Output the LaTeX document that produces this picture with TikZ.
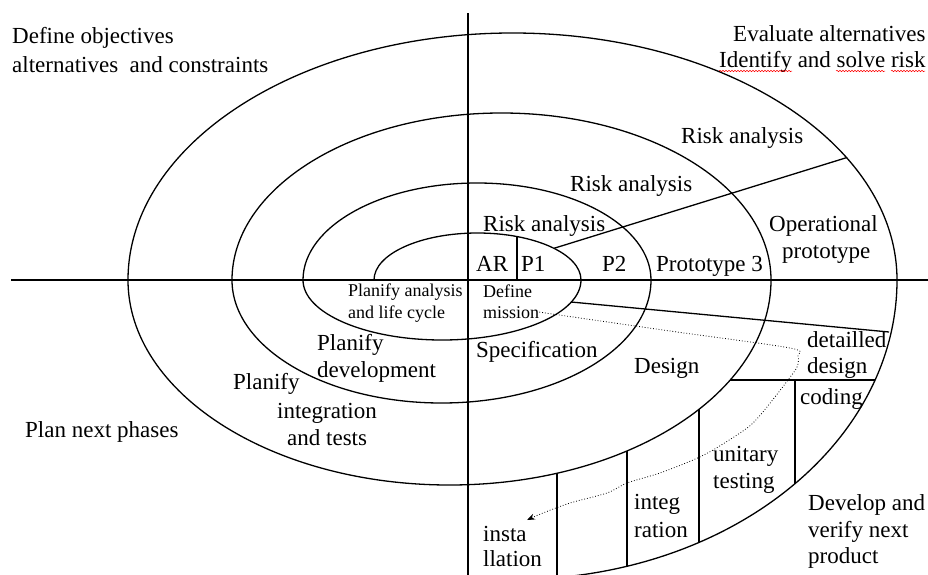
\documentclass[tikz,border=0pt]{standalone}
\usepackage{fontspec}
\setmainfont{Liberation Serif}
\usetikzlibrary{arrows.meta,decorations.pathmorphing}
\begin{document}
\begin{tikzpicture}[x=1pt,y=1pt,
  lbl/.style={inner sep=0pt, anchor=base west, font=\fontsize{23}{27}\selectfont},
  sml/.style={inner sep=0pt, anchor=base west, font=\fontsize{18}{21}\selectfont},
  ln/.style={line width=1.3pt},
  ax/.style={line width=1.4pt},
  spell/.style={red, line width=0.5pt, decorate, decoration={snake, amplitude=0.7pt, segment length=3pt}},
  flow/.style={dotted, line width=0.8pt, -{Stealth[length=8pt,width=6pt]}}]
\useasboundingbox (0,-294) rectangle (928,280);
\clip (0,-294) rectangle (928,280);
% axes
\coordinate (axL) at (11,0); \coordinate (axR) at (930,0);
\coordinate (axT) at (468,267); \coordinate (axB) at (468,-296);
\draw[ax] (axL) -- (axR);
\draw[ax] (axT) -- (axB);
% upper half arcs
\draw[ln] (374,0) arc[start angle=180,end angle=0,x radius=103.5,y radius=47];
\draw[ln] (303,0) arc[start angle=180,end angle=0,x radius=174,y radius=97];
\draw[ln] (232,0) arc[start angle=180,end angle=0,x radius=269.5,y radius=167];
\draw[ln] (128,0) arc[start angle=180,end angle=0,x radius=384.5,y radius=247];
% lower half arcs
\draw[ln] (303,0) arc[start angle=180,end angle=360,x radius=139,y radius=60];
\draw[ln] (232,0) arc[start angle=180,end angle=360,x radius=209.5,y radius=123];
\draw[ln] (128,0) arc[start angle=180,end angle=360,x radius=321.5,y radius=205];
\draw[ln] (897,0) arc[start angle=0,end angle=-82,x radius=382,y radius=299.4];
% separators
\coordinate (sep0) at (517,0); \coordinate (sep1) at (517,43.4);
\coordinate (rk0) at (554,31.7); \coordinate (rk1) at (847,122.5);
\coordinate (dg0) at (571,-22); \coordinate (dg1) at (889,-52);
\coordinate (dd0) at (730,-100); \coordinate (dd1) at (874.5,-100);
\coordinate (cd0) at (795,-100); \coordinate (cd1) at (795,-203.5);
\coordinate (ut0) at (699,-129); \coordinate (ut1) at (699,-262);
\coordinate (ig0) at (627,-171); \coordinate (ig1) at (627,-286);
\coordinate (in0) at (557,-193); \coordinate (in1) at (557,-296);
\draw[ln] (sep0) -- (sep1);
\draw[ln] (rk0) -- (rk1);
\draw[ln] (dg0) -- (dg1);
\draw[ln] (dd0) -- (dd1);
\draw[ln] (cd0) -- (cd1);
\draw[ln] (ut0) -- (ut1);
\draw[ln] (ig0) -- (ig1);
\draw[ln] (in0) -- (in1);
% quadrant texts
\node[lbl] (q1a) at (12,237) {Define objectives};
\node[lbl] (q1b) at (12,208) {alternatives\ \ and constraints};
\node[lbl] (q2a) at (733,239) {Evaluate alternatives};
\node[lbl] (q2b) at (719,213) {Identify and solve risk};
\node[lbl] (q3) at (25,-157) {Plan next phases};
\node[lbl] (q4a) at (808,-230) {Develop and};
\node[lbl] (q4b) at (808,-257) {verify next};
\node[lbl] (q4c) at (808,-283) {product};
% spell-check marks
\draw[spell] (719,209) -- (792,209);
\draw[spell] (836,209) -- (885,209);
\draw[spell] (891,209) -- (925,209);
% upper labels
\node[lbl] (ra1) at (681,137) {Risk analysis};
\node[lbl] (ra2) at (570,89) {Risk analysis};
\node[lbl] (ra3) at (483,49) {Risk analysis};
\node[lbl] (ar) at (476,9) {AR};
\node[lbl] (p1) at (521,9) {P1};
\node[lbl] (p2) at (602,9) {P2};
\node[lbl] (p3) at (656,9) {Prototype 3};
\node[lbl] (op1) at (769,49) {Operational};
\node[lbl] (op2) at (782,22) {prototype};
% lower left labels
\node[sml] (pa1) at (348,-16) {Planify analysis};
\node[sml] (pa2) at (348,-38) {and life cycle};
\node[lbl] (pd1) at (317,-70) {Planify};
\node[lbl] (pd2) at (317,-97) {development};
\node[lbl] (pi1) at (233,-109) {Planify};
\node[lbl] (pi2) at (277,-138) {integration};
\node[lbl] (pi3) at (287,-165) {and tests};
% lower right labels
\node[sml] (dm1) at (483,-17) {Define};
\node[sml] (dm2) at (483,-38) {mission};
\node[lbl] (spec) at (476,-77) {Specification};
\node[lbl] (des) at (634,-93) {Design};
\node[lbl] (dd1t) at (807,-67) {detailled};
\node[lbl] (dd2t) at (807,-93) {design};
\node[lbl] (cod) at (800,-124) {coding};
\node[lbl] (un1) at (713,-181) {unitary};
\node[lbl] (un2) at (713,-208) {testing};
\node[lbl] (ig1t) at (634,-229) {integ};
\node[lbl] (ig2t) at (634,-257) {ration};
\node[lbl] (is1) at (483,-261) {insta};
\node[lbl] (is2) at (483,-286) {llation};
% dotted flow
\coordinate (fend) at (527,-240);
\draw[flow] plot[smooth, tension=0.5] coordinates {(dm2.east) (670,-51) (790,-68) (798,-76) (797,-87) (788,-100) (767,-127) (753,-143) (740,-153) (713,-170) (693,-180) (660,-193) (627,-203) (607,-213) (570,-223) (543,-233) (fend)};
\end{tikzpicture}
\end{document}
